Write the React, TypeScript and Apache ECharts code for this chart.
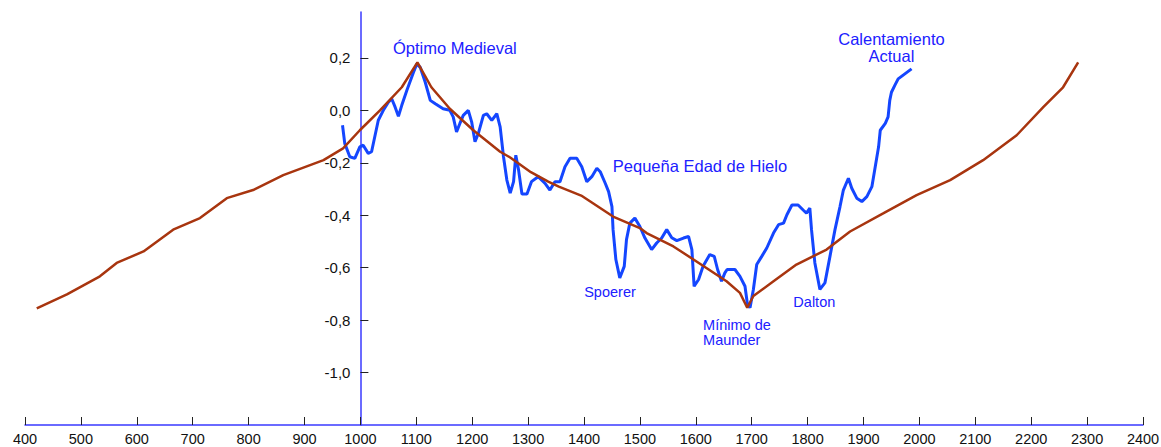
import React, { useEffect, useRef } from 'react';
import * as echarts from 'echarts';

// Reconstructed temperature series (blue)
const tempYears = [
  968, 972, 981, 990, 999, 1005, 1014, 1020, 1032, 1041, 1050, 1056, 1062, 1068, 1074, 1083, 1095, 1101, 1107, 1116,
  1125, 1134, 1148, 1160, 1166, 1172, 1178, 1184, 1193, 1199, 1205, 1211, 1220, 1226, 1235, 1244, 1250, 1256, 1262, 1268,
  1274, 1278, 1283, 1289, 1298, 1306, 1318, 1330, 1339, 1348, 1357, 1366, 1375, 1387, 1396, 1405, 1414, 1423, 1429, 1438,
  1444, 1450, 1452, 1457, 1464, 1472, 1476, 1482, 1491, 1500, 1509, 1521, 1530, 1539, 1548, 1557, 1566, 1578, 1587, 1593,
  1597, 1605, 1613, 1625, 1633, 1639, 1646, 1652, 1656, 1670, 1679, 1688, 1692, 1697, 1703, 1709, 1718, 1727, 1739, 1748,
  1757, 1763, 1772, 1783, 1792, 1798, 1804, 1807, 1813, 1822, 1831, 1840, 1849, 1858, 1864, 1873, 1879, 1888, 1897, 1906,
  1915, 1921, 1927, 1930, 1939, 1944, 1947, 1950, 1956, 1962, 1974, 1986,
];
const tempValues = [
  -0.057, -0.126, -0.177, -0.183, -0.139, -0.133, -0.164, -0.158, -0.038, 0.0, 0.031, 0.044, 0.013, -0.023, 0.019, 0.076, 0.145, 0.177, 0.164, 0.107,
  0.038, 0.025, 0.006, 0.0, -0.025, -0.082, -0.05, -0.019, 0.0, -0.044, -0.12, -0.088, -0.019, -0.013, -0.038, -0.013, -0.063, -0.177, -0.266, -0.316,
  -0.272, -0.171, -0.228, -0.319, -0.319, -0.272, -0.253, -0.278, -0.304, -0.272, -0.272, -0.215, -0.183, -0.183, -0.215, -0.272, -0.253, -0.221, -0.234, -0.278,
  -0.31, -0.367, -0.455, -0.569, -0.639, -0.595, -0.493, -0.43, -0.411, -0.443, -0.487, -0.531, -0.506, -0.487, -0.455, -0.486, -0.497, -0.487, -0.481, -0.531,
  -0.671, -0.645, -0.595, -0.55, -0.557, -0.607, -0.652, -0.62, -0.607, -0.607, -0.633, -0.671, -0.734, -0.753, -0.683, -0.588, -0.557, -0.525, -0.468, -0.436,
  -0.43, -0.398, -0.361, -0.361, -0.38, -0.392, -0.373, -0.455, -0.582, -0.683, -0.658, -0.557, -0.455, -0.367, -0.304, -0.259, -0.297, -0.335, -0.348, -0.329,
  -0.291, -0.215, -0.139, -0.076, -0.05, -0.025, 0.038, 0.069, 0.095, 0.12, 0.139, 0.158,
];

// Long-term trend curve (brown)
const trendYears = [
  421, 475, 534, 564, 612, 665, 713, 761, 808, 862, 934, 969, 999, 1035, 1074, 1102, 1127, 1160, 1202, 1250,
  1268, 1305, 1336, 1355, 1395, 1452, 1500, 1512, 1560, 1619, 1655, 1679, 1692, 1703, 1739, 1780, 1834, 1876, 1936, 1995,
  2055, 2114, 2174, 2222, 2257, 2284,
];
const trendValues = [
  -0.755, -0.702, -0.633, -0.582, -0.538, -0.455, -0.411, -0.335, -0.304, -0.247, -0.19, -0.145, -0.076, 0.0, 0.088, 0.183, 0.088, 0.006, -0.076, -0.158,
  -0.18, -0.236, -0.272, -0.291, -0.325, -0.405, -0.449, -0.468, -0.519, -0.601, -0.652, -0.696, -0.753, -0.708, -0.652, -0.588, -0.531, -0.462, -0.392, -0.323,
  -0.266, -0.19, -0.095, 0.013, 0.088, 0.183,
];

const yTickValues = [-1.0, -0.8, -0.6, -0.4, -0.2, 0.0, 0.2];

// Annotations (text placed at data coordinates)
const annotationTexts = ['Óptimo Medieval', 'Pequeña Edad de Hielo', 'Spoerer', 'Mínimo de\nMaunder', 'Dalton', 'Calentamiento\nActual'];
const annotationYears = [1169, 1607.5, 1446.5, 1613, 1812, 1950];
const annotationValues = [0.238, -0.212, -0.693, -0.847, -0.731, 0.238];
const annotationBig = [true, true, false, false, false, true];
const annotationAlign = ['center', 'center', 'center', 'left', 'center', 'center'];

const FONT = '"Liberation Sans", Arial, Helvetica, sans-serif';

export default function App() {
  const ref = useRef<HTMLDivElement>(null);

  useEffect(() => {
    if (!ref.current) return;
    const chart = echarts.init(ref.current, null, { renderer: 'svg' });
    const fmt = (v: number) => v.toFixed(1).replace('.', ',');
    const xMin = 400;
    const xMax = 2400;
    const gridLeft = 25;
    const gridRight = 18;
    const gridWidth = 1161 - gridLeft - gridRight;
    const yAxisOffset = -((1000 - xMin) / (xMax - xMin)) * gridWidth;

    chart.setOption({
      animation: false,
      backgroundColor: '#ffffff',
      grid: { left: gridLeft, right: gridRight, top: 12, bottom: 22, containLabel: false, outerBoundsMode: 'none' },
      xAxis: {
        type: 'value',
        min: xMin,
        max: xMax,
        interval: 100,
        axisLine: { show: true, onZero: false, lineStyle: { color: '#3a3aff', width: 1.5 } },
        axisTick: { show: true, inside: true, length: 8, lineStyle: { color: '#222222', width: 1 } },
        axisLabel: {
          show: true,
          margin: 6,
          color: '#111111',
          fontSize: 14.5,
          fontFamily: FONT,
          showMinLabel: true,
          showMaxLabel: true,
          formatter: (v: number) => String(v),
        },
        splitLine: { show: false },
      },
      yAxis: {
        type: 'value',
        min: -1.2,
        max: 0.375,
        position: 'left',
        offset: yAxisOffset,
        axisLine: { show: true, onZero: false, lineStyle: { color: '#3a3aff', width: 1.5 } },
        axisTick: {
          show: true,
          inside: true,
          length: 8,
          customValues: yTickValues,
          lineStyle: { color: '#222222', width: 1 },
        },
        axisLabel: {
          show: true,
          customValues: yTickValues,
          margin: 10,
          color: '#111111',
          fontSize: 15,
          fontFamily: FONT,
          formatter: fmt,
        },
        splitLine: { show: false },
      },
      series: [
        {
          type: 'line',
          name: 'Temperatura',
          data: tempYears.map((y, i) => [y, tempValues[i]]),
          showSymbol: false,
          symbol: 'none',
          smooth: false,
          lineStyle: { color: '#1446ff', width: 3 },
          z: 2,
          markPoint: {
            symbol: 'circle',
            symbolSize: 0,
            silent: true,
            data: annotationTexts.map((t, i) => ({
              name: t,
              coord: [annotationYears[i], annotationValues[i]],
              label: {
                show: true,
                position: 'inside',
                formatter: t,
                color: '#2020ff',
                fontSize: annotationBig[i] ? 16.5 : 14.5,
                lineHeight: annotationBig[i] ? 17 : 15.5,
                fontFamily: FONT,
                align: annotationAlign[i],
                verticalAlign: 'middle',
              },
            })),
          },
        },
        {
          type: 'line',
          name: 'Tendencia',
          data: trendYears.map((y, i) => [y, trendValues[i]]),
          showSymbol: false,
          symbol: 'none',
          smooth: false,
          lineStyle: { color: '#a8350f', width: 2.5 },
          z: 3,
        },
      ],
    });

    return () => chart.dispose();
  }, []);

  return <div ref={ref} style={{ position: 'fixed', left: 0, top: 0, width: 1161, height: 447 }} />;
}
